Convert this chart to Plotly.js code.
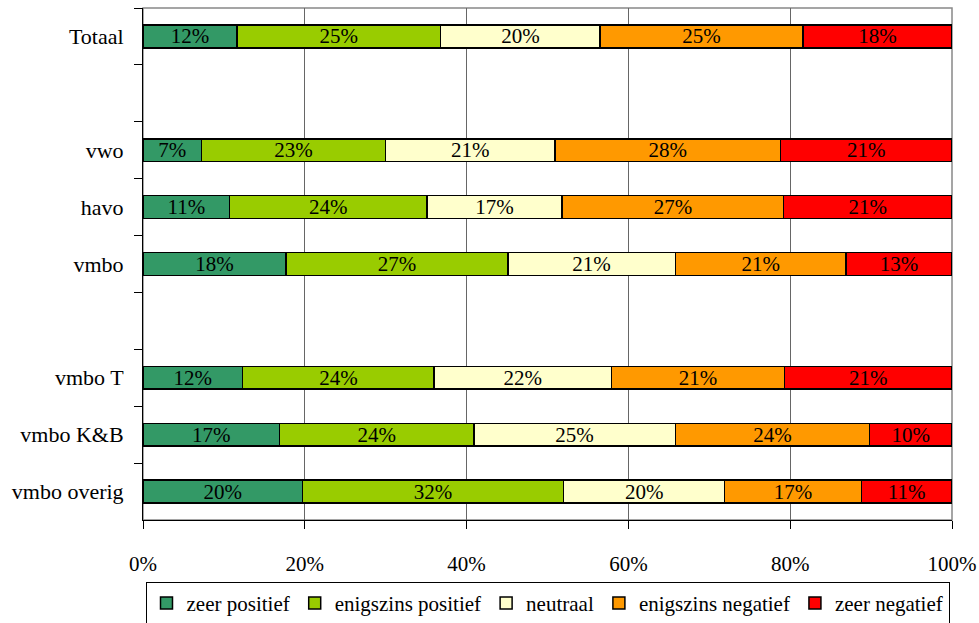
<!DOCTYPE html>
<html>
<head>
<meta charset="utf-8">
<script src="https://cdn.plot.ly/plotly-3.0.1.min.js"></script>
<style>html,body{margin:0;padding:0;background:#fff;}#chart{width:979px;height:623px;}</style>
</head>
<body>
<div id="chart"></div>
<script>
// Categories (blank rows are spacer rows)
const categories = ['Totaal', ' ', 'vwo', 'havo', 'vmbo', '  ', 'vmbo T', 'vmbo K&B', 'vmbo overig'];
const seriesNames = ['zeer positief', 'enigszins positief', 'neutraal', 'enigszins negatief', 'zeer negatief'];

// Shares (%) per category, null = spacer row
const zeerPositief       = [11.6, null,  7.2, 10.7, 17.7, null, 12.3, 16.9, 19.7];
const enigszinsPositief  = [25.2, null, 22.8, 24.4, 27.4, null, 23.7, 24.0, 32.3];
const neutraal           = [19.7, null, 20.9, 16.7, 20.7, null, 21.9, 24.9, 19.9];
const enigszinsNegatief  = [25.1, null, 27.9, 27.4, 21.1, null, 21.4, 24.0, 16.9];
const zeerNegatief       = [18.4, null, 21.2, 20.8, 13.1, null, 20.7, 10.2, 11.2];

const xTickVals = [0, 20, 40, 60, 80, 100];
const xTickText = ['0%', '20%', '40%', '60%', '80%', '100%'];

const colors = ['#339966', '#99CC00', '#FFFFCC', '#FF9900', '#FF0000'];
const allSeries = [zeerPositief, enigszinsPositief, neutraal, enigszinsNegatief, zeerNegatief];

const FONT = 'Liberation Serif';

const traces = allSeries.map((vals, i) => ({
  type: 'bar',
  orientation: 'h',
  name: seriesNames[i],
  y: categories,
  x: vals,
  width: 0.4,
  marker: {color: colors[i], line: {color: '#000', width: 1.5}},
  texttemplate: '%{x:.0f}%',
  textposition: 'inside',
  insidetextanchor: 'middle',
  textangle: 0,
  constraintext: 'none',
  textfont: {family: FONT, size: 21, color: '#000'},
  hoverinfo: 'skip'
}));

const layout = {
  width: 979,
  height: 623,
  barmode: 'stack',
  paper_bgcolor: '#fff',
  plot_bgcolor: '#fff',
  margin: {l: 143, r: 27, t: 8, b: 103},
  font: {family: FONT, size: 21, color: '#000'},
  showlegend: true,
  legend: {
    orientation: 'h',
    xref: 'paper', x: 0.5, xanchor: 'center',
    yref: 'container', y: 0.066, yanchor: 'top',
    bordercolor: '#000', borderwidth: 1,
    font: {family: FONT, size: 21, color: '#000'},
    traceorder: 'normal',
    itemwidth: 30
  },
  xaxis: {
    range: [0, 100],
    tickvals: xTickVals,
    ticktext: xTickText,
    tickfont: {family: FONT, size: 21, color: '#000'},
    showgrid: true,
    gridcolor: '#666',
    gridwidth: 1,
    zeroline: false,
    showline: true,
    linecolor: '#000',
    linewidth: 1,
    ticks: 'outside',
    ticklen: 8,
    tickcolor: '#000',
    ticklabelstandoff: 17,
    fixedrange: true
  },
  yaxis: {
    type: 'category',
    categoryorder: 'array',
    categoryarray: categories,
    autorange: 'reversed',
    tickson: 'boundaries',
    ticks: 'outside',
    ticklen: 8,
    tickcolor: '#000',
    tickfont: {family: FONT, size: 22, color: '#000'},
    showgrid: false,
    showline: true,
    linecolor: '#000',
    linewidth: 1,
    zeroline: false,
    ticklabelstandoff: 14,
    fixedrange: true
  },
  shapes: [{
    type: 'rect', xref: 'paper', yref: 'paper',
    x0: 0, x1: 1, y0: 0, y1: 1,
    line: {color: '#888', width: 1.5},
    layer: 'below'
  }]
};

Plotly.newPlot('chart', traces, layout, {displayModeBar: false, staticPlot: true});
</script>
</body>
</html>
